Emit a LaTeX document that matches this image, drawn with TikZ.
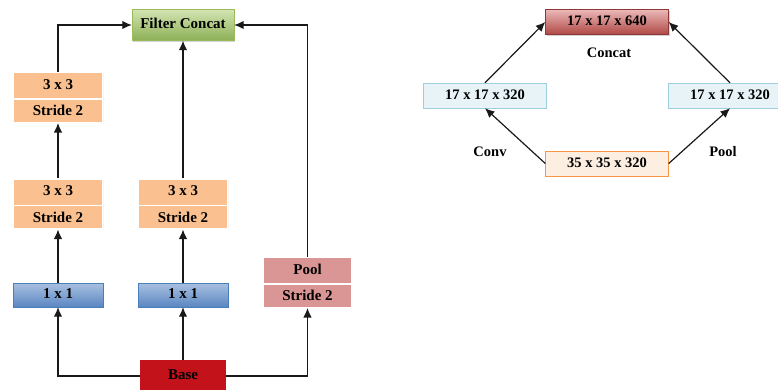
\documentclass[tikz,border=0pt]{standalone}
\usepackage{fontspec}
\setmainfont{Liberation Serif}
\usetikzlibrary{arrows.meta,shapes.multipart,shadows}

\definecolor{cellorange}{HTML}{FAC090}
\definecolor{cellpink}{HTML}{D99694}
\definecolor{basered}{HTML}{C3121A}
\definecolor{bluetop}{HTML}{A9C1E0}
\definecolor{bluebot}{HTML}{5A86C2}
\definecolor{blueline}{HTML}{4A7EBB}
\definecolor{greentop}{HTML}{D3E4B2}
\definecolor{greenbot}{HTML}{8CAF55}
\definecolor{greenline}{HTML}{9ABB5A}
\definecolor{redtop}{HTML}{EBB9B8}
\definecolor{redbot}{HTML}{B04844}
\definecolor{redline}{HTML}{8C3836}
\definecolor{icefill}{HTML}{E7F3F6}
\definecolor{iceline}{HTML}{9DCFDE}
\definecolor{peachfill}{HTML}{FDEEE2}
\definecolor{peachline}{HTML}{F79646}

\begin{document}
\begin{tikzpicture}[x=1pt, y=-1pt, font=\bfseries\fontsize{15}{18}\selectfont]
	\tikzstyle{box} = [rectangle, inner sep=0pt, text centered, text height=10.5pt, text depth=3.5pt]
	\tikzstyle{soft_shadow} = [drop shadow={shadow xshift=1.2pt, shadow yshift=-1.2pt, opacity=.35}]
	\tikzstyle{two_cell} = [box, rectangle split, rectangle split parts=2, draw=white,
	line width=1.5pt, minimum width=89pt, inner ysep=5.5pt,
	drop shadow={shadow xshift=.8pt, shadow yshift=-.8pt, opacity=.2}]
	\tikzstyle{conv_cell} = [two_cell, fill=cellorange]
	\tikzstyle{pool_cell} = [two_cell, fill=cellpink]
	\tikzstyle{one_cell} = [box, soft_shadow, minimum width=90pt, minimum height=24pt,
	top color=bluetop, bottom color=bluebot, draw=blueline, thin]
	\tikzstyle{concat_item} = [box, soft_shadow, minimum width=102pt, minimum height=31pt,
	top color=greentop, bottom color=greenbot, draw=greenline, thin]
	\tikzstyle{base_item} = [box, minimum width=86pt, minimum height=32pt, fill=basered]
	\tikzstyle{map_item} = [box, minimum width=123pt, minimum height=25pt, thin,
	font=\bfseries\fontsize{14.5}{17}\selectfont]
	\tikzstyle{conn} = [-{Latex[length=9.5pt,width=8.5pt]}, line width=1.2pt, black!90]
	\tikzstyle{label} = [font=\bfseries\fontsize{14.5}{17}\selectfont]

	\useasboundingbox (0,0) rectangle (778,389);

	% left: inception grid reduction
	\node[concat_item] (fc) at (183,25) {Filter Concat};
	\node[conv_cell] (la) at (58,97.5) {3 x 3\nodepart{two}Stride 2};
	\node[conv_cell] (lb) at (58,204) {3 x 3\nodepart{two}Stride 2};
	\node[conv_cell] (mb) at (183,204) {3 x 3\nodepart{two}Stride 2};
	\node[one_cell] (l1) at (58,295) {1 x 1};
	\node[one_cell] (m1) at (183,295) {1 x 1};
	\node[pool_cell] (pool) at (307.5,282.5) {Pool\nodepart{two}Stride 2};
	\node[base_item] (base) at (183,376) {Base};

	\draw[conn] (base.west) -| (l1.south);
	\draw[conn] (base.north) -- (m1.south);
	\draw[conn] (base.east) -| (pool.south);
	\draw[conn] (l1.north) -- (lb.south);
	\draw[conn] (lb.north) -- (la.south);
	\draw[conn] (la.north) |- (fc.west);
	\draw[conn] (m1.north) -- (mb.south);
	\draw[conn] (mb.north) -- (fc.south);
	\draw[conn] (pool.north) |- (fc.east);

	% right: feature map sizes
	\node[map_item, soft_shadow, top color=redtop, bottom color=redbot, draw=redline] (c640) at (607,22) {17 x 17 x 640};
	\node[map_item, fill=icefill, draw=iceline] (l320) at (485,95.5) {17 x 17 x 320};
	\node[map_item, fill=icefill, draw=iceline] (r320) at (730,95.5) {17 x 17 x 320};
	\node[map_item, fill=peachfill, draw=peachline] (b35) at (607,163.5) {35 x 35 x 320};
	\node[label] (concat) at (609,53) {Concat};
	\node[label] (conv) at (490,152) {Conv};
	\node[label] (pl) at (723,152) {Pool};

	\draw[conn] (b35.west) -- (l320.south);
	\draw[conn] (l320.north) -- (c640.west);
	\draw[conn] (b35.east) -- (r320.south);
	\draw[conn] (r320.north) -- (c640.east);
\end{tikzpicture}
\end{document}
